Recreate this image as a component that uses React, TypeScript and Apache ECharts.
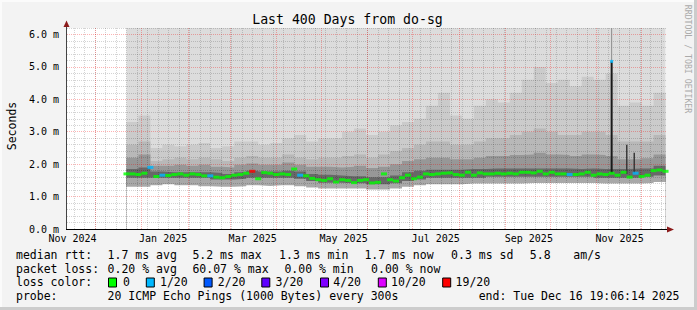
import React, { useEffect, useRef } from 'react';
import * as echarts from 'echarts';

// x values are days relative to 1 Dec 2024 00:00
const X_MIN = -18.7;
const X_MAX = 381.3;
const Y_MAX = 6.2;

const monthStartDays = [0, 31, 62, 90, 121, 151, 182, 212, 243, 274, 304, 335, 365];
const xLabelDays = [-15, 45.5, 105.3, 166, 227.5, 289.7, 350.3];
const xLabelTexts = ['Nov 2024', 'Jan 2025', 'Mar 2025', 'May 2025', 'Jul 2025', 'Sep 2025', 'Nov 2025'];
const yLabelValues = [0, 1, 2, 3, 4, 5, 6];

// median rtt (ms), sampled every 4 days starting at day 21
const MED_START = 21;
const MED_STEP = 4;
const medianRtt = [
  1.70, 1.70, 1.68, 1.72, 1.90,
  1.62, 1.66, 1.65, 1.68, 1.70,
  1.66, 1.70, 1.68, 1.64, 1.64,
  1.60, 1.58, 1.62, 1.66, 1.68,
  1.72, 1.78, 1.55, 1.74, 1.72,
  1.68, 1.70, 1.68, 1.85, 1.66,
  1.64, 1.56, 1.52, 1.50, 1.55,
  1.45, 1.52, 1.50, 1.43, 1.50,
  1.52, 1.42, 1.44, 1.70, 1.52,
  1.48, 1.58, 1.66, 1.55, 1.60,
  1.70, 1.68, 1.70, 1.72, 1.73,
  1.68, 1.66, 1.75, 1.66, 1.73,
  1.70, 1.70, 1.72, 1.70, 1.72,
  1.70, 1.75, 1.75, 1.73, 1.78,
  1.70, 1.75, 1.70, 1.70, 1.68,
  1.68, 1.70, 1.75, 1.66, 1.70,
  1.68, 1.72, 1.66, 1.75, 1.60,
  1.72, 1.62, 1.66, 1.80, 1.82,
  1.78,
];
// [day, lost pings of 20]
const lossEvents = [[37, 1], [45, 1], [77, 1], [105, 19], [137, 1], [317, 1], [361, 1]];

// smoke bands (ms), sampled every 8 days starting at day 21
const SMOKE_START = 21;
const SMOKE_STEP = 8;
const smokeLow = [
  1.30, 1.30, 1.35, 1.38, 1.35, 1.35, 1.32, 1.30, 1.30, 1.32,
  1.35, 1.33, 1.35, 1.35, 1.32, 1.28, 1.25, 1.25, 1.25, 1.25,
  1.22, 1.22, 1.25, 1.30, 1.35, 1.38, 1.38, 1.38, 1.40, 1.40,
  1.40, 1.40, 1.40, 1.42, 1.42, 1.42, 1.42, 1.42, 1.42, 1.40,
  1.40, 1.40, 1.40, 1.42, 1.45, 1.45,
];
const smokeDarkLow = [
  1.58, 1.58, 1.58, 1.58, 1.58, 1.58, 1.58, 1.53, 1.53, 1.55,
  1.58, 1.58, 1.58, 1.58, 1.55, 1.48, 1.43, 1.43, 1.41, 1.41,
  1.38, 1.38, 1.41, 1.48, 1.53, 1.58, 1.58, 1.58, 1.58, 1.58,
  1.61, 1.61, 1.61, 1.61, 1.61, 1.61, 1.61, 1.61, 1.61, 1.58,
  1.58, 1.58, 1.58, 1.61, 1.65, 1.65,
];
const smokeDarkHigh = [
  1.85, 1.90, 1.77, 1.75, 1.75, 1.75, 1.75, 1.73, 1.70, 1.75,
  1.80, 1.77, 1.77, 1.80, 1.77, 1.70, 1.67, 1.65, 1.63, 1.63,
  1.60, 1.60, 1.65, 1.75, 1.80, 1.83, 1.83, 1.83, 1.85, 1.85,
  1.87, 1.87, 1.87, 1.87, 1.87, 1.87, 1.87, 1.85, 1.87, 1.85,
  1.85, 1.85, 1.87, 1.87, 1.95, 1.95,
];
const smokeMidLow = [
  2.20, 2.30, 1.95, 1.95, 1.98, 1.95, 1.98, 1.92, 1.90, 1.98,
  2.02, 1.98, 1.98, 2.05, 1.98, 1.92, 1.92, 1.90, 1.92, 1.95,
  1.88, 1.92, 2.00, 2.10, 2.15, 2.20, 2.20, 2.15, 2.15, 2.20,
  2.25, 2.25, 2.28, 2.30, 2.35, 2.30, 2.28, 2.25, 2.30, 2.28,
  2.25, 2.15, 2.15, 2.18, 2.30, 2.30,
];
const smokeMid = [
  2.60, 2.70, 2.10, 2.15, 2.20, 2.15, 2.20, 2.15, 2.10, 2.20,
  2.25, 2.20, 2.20, 2.30, 2.20, 2.15, 2.20, 2.20, 2.25, 2.30,
  2.20, 2.30, 2.40, 2.50, 2.60, 2.70, 2.70, 2.60, 2.60, 2.70,
  2.80, 2.80, 2.90, 3.00, 3.10, 3.00, 2.90, 2.90, 3.00, 3.00,
  2.90, 2.70, 2.70, 2.70, 2.90, 2.90,
];
const smokeHigh = [
  3.30, 3.50, 2.50, 2.60, 2.55, 2.60, 2.65, 2.50, 2.55, 2.70,
  2.70, 2.60, 2.65, 2.80, 2.90, 2.70, 2.80, 2.80, 3.00, 3.10,
  2.90, 3.00, 3.20, 3.30, 3.40, 3.80, 4.20, 3.50, 3.40, 3.80,
  4.00, 3.90, 4.20, 4.60, 5.00, 4.50, 4.60, 4.40, 4.70, 4.60,
  4.80, 3.80, 3.90, 3.80, 4.20, 4.40,
];

// isolated spikes: day, bottom, top
const spikeDays = [345.0, 355.1, 360.1];
const spikeBottoms = [1.72, 1.70, 1.72];
const spikeTops = [5.17, 2.60, 2.35];

const FONT = '"DejaVu Sans Mono", monospace';

function lossColor(n: number): string {
  if (n <= 0) return '#00ff00';
  if (n === 1) return '#00b8ff';
  if (n === 2) return '#0059ff';
  if (n === 3) return '#5e00ff';
  if (n < 10) return '#7e00ff';
  if (n < 19) return '#dd00ff';
  return '#ff0000';
}

function txt(text: string, x: number, y: number, size = 11.5, extra: any = {}) {
  return {
    type: 'text',
    x,
    y,
    silent: true,
    style: { text, font: `${size}px ${FONT}`, fill: '#000', align: 'left', verticalAlign: 'middle' },
    ...extra,
  };
}

export default function App() {
  const ref = useRef<HTMLDivElement>(null);

  useEffect(() => {
    if (!ref.current) return;
    const chart = echarts.init(ref.current, undefined, { renderer: 'svg' });

    const smokeDays = smokeLow.map((_, i) => SMOKE_START + i * SMOKE_STEP);
    const medDays = medianRtt.map((_, i) => MED_START + i * MED_STEP);

    const weekDays: number[] = [];
    for (let d = -14; d <= 378; d += 7) weekDays.push(d);
    const yMinor: number[] = [];
    for (let i = 1; i <= 31; i++) if (i % 5 !== 0) yMinor.push(+(i * 0.2).toFixed(1));
    const yMajor = [1, 2, 3, 4, 5, 6];

    const band = (name: string, vals: number[], color: string) => ({
      name,
      type: 'line',
      step: 'end',
      data: smokeDays.map((d, i) => [d, vals[i]]),
      showSymbol: false,
      symbol: 'none',
      lineStyle: { width: 0, opacity: 0 },
      areaStyle: { color, opacity: 1 },
      silent: true,
      z: 2,
    });

    const minorStyle = { color: 'rgba(0,0,0,0.17)', type: [1, 1], width: 1 };
    const majorStyle = { color: 'rgba(245,0,0,0.3)', type: [1, 1], width: 1 };

    const gridLines = {
      name: 'grid',
      type: 'line',
      data: [[X_MIN, 0]],
      showSymbol: false,
      symbol: 'none',
      lineStyle: { opacity: 0 },
      silent: true,
      z: 5,
      markLine: {
        silent: true,
        symbol: ['none', 'none'],
        label: { show: false },
        animation: false,
        z: 5,
        data: [
          ...weekDays.map((d) => ({ xAxis: d, lineStyle: minorStyle })),
          ...yMinor.map((v) => ({ yAxis: v, lineStyle: minorStyle })),
          ...monthStartDays.map((d) => ({ xAxis: d, lineStyle: majorStyle })),
          ...yMajor.map((v) => ({ yAxis: v, lineStyle: majorStyle })),
        ],
      },
    };

    const spikeSeries = spikeDays.map((d, i) => ({
      type: 'line',
      data: [[d, spikeBottoms[i]], [d, spikeTops[i]]],
      showSymbol: false,
      symbol: 'none',
      lineStyle: { color: i === 0 ? '#1a1a1a' : '#3a3a3a', width: i === 0 ? 2 : 1.5 },
      silent: true,
      z: 6,
    }));

    const option: any = {
      animation: false,
      backgroundColor: '#f3f3f3',
      grid: {
        left: 67,
        top: 28,
        width: 599,
        height: 201,
        show: true,
        backgroundColor: '#ffffff',
        borderWidth: 0,
      },
      xAxis: {
        type: 'value',
        min: X_MIN,
        max: X_MAX,
        z: 8,
        axisLine: { show: false },
        axisTick: { show: false },
        splitLine: { show: false },
        axisLabel: {
          customValues: xLabelDays,
          margin: 4,
          color: '#000',
          fontFamily: FONT,
          fontSize: 10,
          formatter: (v: number) => {
            const i = xLabelDays.findIndex((d) => Math.abs(d - v) < 0.01);
            return i >= 0 ? xLabelTexts[i] : '';
          },
        },
      },
      yAxis: {
        type: 'value',
        min: 0,
        max: Y_MAX,
        interval: 1,
        z: 8,
        axisLine: { show: false },
        axisTick: { show: false },
        splitLine: { show: false },
        axisLabel: {
          customValues: yLabelValues,
          margin: 8,
          color: '#000',
          fontFamily: FONT,
          fontSize: 10,
          formatter: (v: number) => {
            const r = Math.round(v * 1000) / 1000;
            return Number.isInteger(r) ? r.toFixed(1) + ' m' : '';
          },
        },
      },
      series: [
        band('max', smokeDays.map(() => Y_MAX), '#dcdcdc'),
        band('high', smokeHigh, '#cbcbcb'),
        band('mid', smokeMid, '#b8b8b8'),
        band('midLow', smokeMidLow, '#979797'),
        band('darkHigh', smokeDarkHigh, '#686868'),
        band('darkLow', smokeDarkLow, '#a8a8a8'),
        band('low', smokeLow, '#ffffff'),
        gridLines,
        ...spikeSeries,
        {
          type: 'line',
          data: [[spikeDays[0], spikeTops[0]], [spikeDays[0], Y_MAX]],
          showSymbol: false,
          symbol: 'none',
          lineStyle: { color: '#8c8c8c', width: 1 },
          silent: true,
          z: 6,
        },
        {
          name: 'median rtt',
          type: 'scatter',
          data: medDays.map((d, i) => [d, medianRtt[i]]),
          symbol: 'rect',
          symbolSize: [6, 3],
          silent: true,
          z: 10,
          itemStyle: {
            color: (p: any) => {
              const ev = lossEvents.find((e) => Math.abs(e[0] - p.value[0]) < 0.5);
              return lossColor(ev ? ev[1] : 0);
            },
          },
        },
        {
          type: 'scatter',
          data: [[spikeDays[0], spikeTops[0]]],
          symbol: 'rect',
          symbolSize: [3, 3],
          silent: true,
          z: 11,
          itemStyle: { color: lossColor(1) },
        },
      ],
      graphic: [
        // frame
        { type: 'rect', shape: { x: 0, y: 0, width: 697, height: 2 }, style: { fill: '#fbfbfb' }, silent: true },
        { type: 'rect', shape: { x: 0, y: 0, width: 2, height: 310 }, style: { fill: '#fbfbfb' }, silent: true },
        { type: 'rect', shape: { x: 694, y: 0, width: 3, height: 310 }, style: { fill: '#cccccc' }, silent: true },
        { type: 'rect', shape: { x: 0, y: 307, width: 697, height: 3 }, style: { fill: '#cccccc' }, silent: true },
        // axes
        { type: 'line', shape: { x1: 66.5, y1: 229.5, x2: 66.5, y2: 24 }, style: { stroke: '#444', lineWidth: 1 }, silent: true, z: 20 },
        { type: 'line', shape: { x1: 66, y1: 229.5, x2: 670, y2: 229.5 }, style: { stroke: '#000', lineWidth: 1 }, silent: true, z: 20 },
        { type: 'polygon', shape: { points: [[63.5, 27], [66.5, 20.5], [69.5, 27]] }, style: { fill: '#8b1a1a' }, silent: true, z: 21 },
        { type: 'polygon', shape: { points: [[667, 226.5], [674, 229.5], [667, 232.5]] }, style: { fill: '#8b1a1a' }, silent: true, z: 21 },
        // title & axis name
        { type: 'text', x: 347.5, y: 19, silent: true, style: { text: 'Last 400 Days from do-sg', font: `13.2px ${FONT}`, fill: '#000', align: 'center', verticalAlign: 'middle' } },
        { type: 'text', x: 12, y: 126, rotation: Math.PI / 2, silent: true, style: { text: 'Seconds', font: `11.5px ${FONT}`, fill: '#000', align: 'center', verticalAlign: 'middle' } },
        { type: 'text', x: 688, y: 59, rotation: -Math.PI / 2, silent: true, style: { text: 'RRDTOOL / TOBI OETIKER', font: `8.2px ${FONT}`, fill: '#aaaaaa', align: 'center', verticalAlign: 'middle' } },
        // legend row 1
        txt('median rtt:', 16, 255),
        txt('1.7 ms avg', 107.6, 255),
        txt('5.2 ms max', 192.4, 255),
        txt('1.3 ms min', 279.1, 255),
        txt('1.7 ms now', 364.4, 255),
        txt('0.3 ms sd', 451.1, 255),
        txt('5.8', 529.8, 255),
        txt('am/s', 573.3, 255),
        // row 2
        txt('packet loss:', 16, 268.5),
        txt('0.20 % avg', 107.6, 268.5),
        txt('60.07 % max', 192.4, 268.5),
        txt('0.00 % min', 284.4, 268.5),
        txt('0.00 % now', 371.1, 268.5),
        // row 3
        txt('loss color:', 16, 282.3),
        ...[
          [108, 123.1, '0', '#00ff00'],
          [145.8, 160, '1/20', '#00b8ff'],
          [203.6, 217.8, '2/20', '#0059ff'],
          [261.3, 275.6, '3/20', '#5e00ff'],
          [320, 333.3, '4/20', '#7e00ff'],
          [377.8, 391.1, '10/20', '#dd00ff'],
          [442.2, 455.6, '19/20', '#ff0000'],
        ].flatMap(([bx, tx, label, color]: any) => [
          { type: 'rect', shape: { x: bx + 0.5, y: 278, width: 8, height: 9 }, style: { fill: color, stroke: '#000', lineWidth: 1 }, silent: true },
          txt(label, tx, 282.3),
        ]),
        // row 4
        txt('probe:', 16, 296),
        txt('20 ICMP Echo Pings (1000 Bytes) every 300s', 107.6, 296),
        txt('end: Tue Dec 16 19:06:14 2025', 478.7, 296),
      ],
    };

    chart.setOption(option);
    return () => chart.dispose();
  }, []);

  return <div ref={ref} style={{ position: 'absolute', left: 0, top: 0, width: 697, height: 310 }} />;
}
